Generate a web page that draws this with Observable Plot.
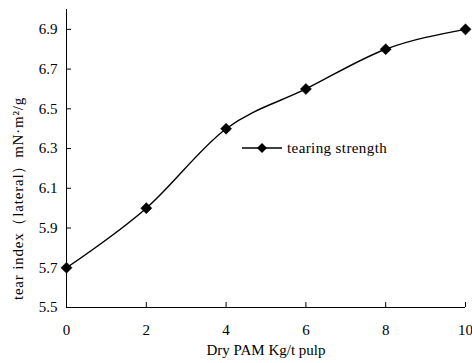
<!DOCTYPE html>
<html><head><meta charset="utf-8">
<script src="https://cdn.jsdelivr.net/npm/d3@7"></script>
<script src="https://cdn.jsdelivr.net/npm/@observablehq/plot@0.6"></script>
<style>
body{margin:0;background:#fff;}
#wrap{position:relative;width:472px;height:363px;font-family:"Liberation Serif","Times New Roman",serif;}
#wrap svg, #wrap svg text{font-family:"Liberation Serif","Times New Roman",serif !important;}
#legend{position:absolute;left:242px;top:138px;display:flex;align-items:center;font-size:15px;letter-spacing:0.4px;color:#000;font-family:"Liberation Serif","Times New Roman",serif;}
</style></head><body>
<div id="wrap"><div id="legend"><svg width="42" height="20"><line x1="0" x2="40" y1="10" y2="10" stroke="#000" stroke-width="1.3"/><path d="M20,5L25,10L20,15L15,10Z" fill="#000"/></svg><span style="margin-left:3px">tearing strength</span></div></div>
<script>
const dosage = [0, 2, 4, 6, 8, 10];
const tearIndex = [5.7, 6.0, 6.4, 6.6, 6.8, 6.9];
const yTicks = [5.5, 5.7, 5.9, 6.1, 6.3, 6.5, 6.7, 6.9];
const xTicks = [0, 2, 4, 6, 8, 10];
const seriesName = "tearing strength";
const xLabel = "Dry PAM Kg/t pulp";
const yLabel = "tear index（lateral）mN·m²/g";
const data = dosage.map((d, i) => ({x: d, y: tearIndex[i]}));
const serif = '"Liberation Serif","Times New Roman",serif';
const W = 472, H = 363, mL = 66, mR = 7, mT = 9, mB = 56, tick = 5;

const chart = Plot.plot({
  width: W, height: H,
  marginLeft: mL, marginRight: mR, marginTop: mT, marginBottom: mB,
  style: {fontSize: "15px", color: "#000", background: "#fff"},
  x: {domain: [0, 10]},
  y: {domain: [5.5, 7.0]},
  marks: [
    Plot.axisY({ticks: yTicks, tickFormat: d => d.toFixed(1), tickSize: 0, tickPadding: 9, label: null, fontSize: 15, fontFamily: serif}),
    Plot.axisX({ticks: xTicks, tickSize: 0, tickPadding: 17, label: null, fontSize: 15, fontFamily: serif}),
    Plot.ruleX(xTicks, {stroke: "#000", insetTop: H - mT - mB - tick}),
    Plot.ruleY(yTicks, {stroke: "#000", insetRight: W - mL - mR - tick}),
    Plot.ruleX([0], {stroke: "#000"}),
    Plot.ruleY([5.5], {stroke: "#000"}),
    Plot.line(data, {x: "x", y: "y", curve: "monotone-x", stroke: "#000", strokeWidth: 1.4}),
    Plot.dot(data, {x: "x", y: "y", symbol: "diamond2", r: 5, fill: "#000", stroke: "#000", strokeWidth: 0.5}),
    Plot.text([xLabel], {frameAnchor: "bottom", dy: 47, fontSize: 15, fontFamily: serif}),
    Plot.text([yLabel], {frameAnchor: "left", textAnchor: "middle", dx: -48, dy: 40, rotate: -90, fontSize: 15, fontFamily: serif})
  ]
});
chart.querySelectorAll("text").forEach(t => { if (t.textContent === yLabel) t.style.letterSpacing = "0.8px"; });
document.getElementById("wrap").prepend(chart);
chart.style.position = "absolute"; chart.style.left = "0"; chart.style.top = "0";
</script></body></html>
